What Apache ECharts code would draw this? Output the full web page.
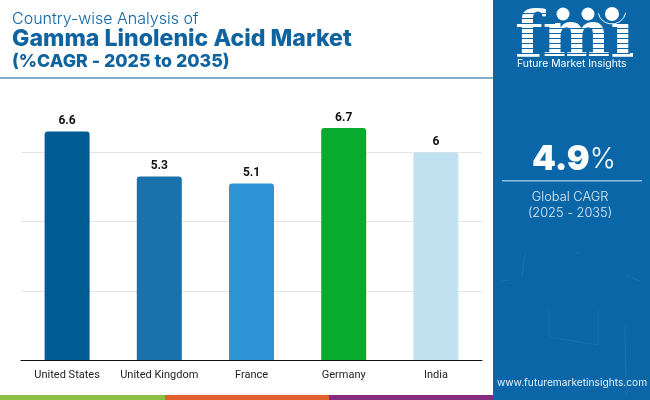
<!DOCTYPE html>
<html>
<head>
<meta charset="utf-8">
<title>Gamma Linolenic Acid Market</title>
<script src="https://cdn.jsdelivr.net/npm/echarts@6/dist/echarts.min.js"></script>
<style>
html,body{margin:0;padding:0;background:#fff}
#chart{width:650px;height:400px}
</style>
</head>
<body>
<div id="chart"></div>
<script>
var countries = ['United States', 'United Kingdom', 'France', 'Germany', 'India'];
var cagrValues = [6.6, 5.3, 5.1, 6.7, 6];
var barColors = ['#015c93', '#1a72ac', '#2f94d6', '#09ab2e', '#c3e2f1'];

var panelBlue = '#0a66a7';
var titleBlue = '#0f639f';

var graphicItems = [
    // title block
    {type:'text', x:12, y:19, style:{text:'Country-wise Analysis of', font:'300 16px Inter', fill:titleBlue, verticalAlign:'middle'}},
    {type:'text', x:12, y:39, style:{text:'Gamma Linolenic Acid Market', font:'800 23.1px Inter', fill:titleBlue, verticalAlign:'middle'}},
    {type:'text', x:12, y:62, style:{text:'(%CAGR - 2025 to 2035)', font:'800 17.8px Inter', fill:titleBlue, verticalAlign:'middle'}},
    {type:'rect', shape:{x:0, y:77, width:493, height:2}, style:{fill:'#7fb0c8'}},
    // right panel
    {type:'rect', shape:{x:493, y:0, width:157, height:400}, style:{fill:panelBlue}},
    // bottom stripes
    {type:'rect', shape:{x:0, y:395, width:165, height:5}, style:{fill:'#8cc045'}},
    {type:'rect', shape:{x:165, y:395, width:164, height:5}, style:{fill:'#e2602c'}},
    {type:'rect', shape:{x:329, y:395, width:164, height:5}, style:{fill:'#862d80'}},
    // logo
    {type:'text', left:515, top:7, style:{text:'fmi', font:'bold 64px "DejaVu Serif"', fill:'#fff'}},
    {type:'rect', shape:{x:601, y:0, width:40, height:24}, style:{fill:panelBlue}},
    {type:'circle', shape:{cx:563, cy:14, r:6.5}, style:{fill:'#fff'}},
    {type:'circle', shape:{cx:588, cy:14, r:6.5}, style:{fill:'#fff'}},
    {type:'circle', shape:{cx:612, cy:14, r:7}, style:{fill:'#fff'}},
    {type:'arc', shape:{cx:612, cy:10, r:14, startAngle:0.2, endAngle:2.9}, style:{stroke:'#fff', fill:null, lineWidth:1}},
    {type:'text', x:517, y:64, style:{text:'Future Market Insights', font:'10.4px Inter', fill:'#fff', verticalAlign:'middle'}},
    // CAGR box
    {type:'text', left:532, top:143, style:{
        text:'{a|4.9}{b|%}',
        rich:{
            a:{font:'900 34px Inter', fill:'#fff'},
            b:{font:'300 28px Inter', fill:'#fff'}
        }
    }},
    {type:'rect', shape:{x:502, y:180, width:140, height:1.5}, style:{fill:'#8fbde0'}},
    {type:'text', x:570, y:197, style:{text:'Global CAGR', font:'300 12.8px Inter', fill:'#dcecf7', align:'center', verticalAlign:'middle'}},
    {type:'text', x:570, y:213, style:{text:'(2025 - 2035)', font:'300 12.8px Inter', fill:'#dcecf7', align:'center', verticalAlign:'middle'}},
    {type:'text', x:572, y:383, style:{text:'www.futuremarketinsights.com', font:'10.2px Inter', fill:'#e6f1f9', align:'center', verticalAlign:'middle'}}
];

// blue stripes cut through the logo letters
for (var y = 13; y < 58; y += 5) {
    if (y < 24) {
        graphicItems.push({type:'rect', shape:{x:515, y:y, width:40, height:1}, style:{fill:panelBlue}});
    } else {
        graphicItems.push({type:'rect', shape:{x:515, y:y, width:115, height:1}, style:{fill:panelBlue}});
    }
}

// faint scratches on the panel
var scratches = [
    [525,253,522,277], [625,275,640,281], [625,325,626,395], [549,337,598,345],
    [598,345,598,310], [576,253,579,252], [549,310,549,337], [510,280,500,281]
];
for (var i = 0; i < scratches.length; i++) {
    graphicItems.push({type:'line', shape:{x1:scratches[i][0], y1:scratches[i][1], x2:scratches[i][2], y2:scratches[i][3]},
        style:{stroke:'#3f8dbf', lineWidth:1, opacity:0.3}});
}

var myChart = echarts.init(document.getElementById('chart'));
var option = {
    animation: false,
    backgroundColor: '#fff',
    grid: {left:21, right:168, top:83, bottom:40},
    xAxis: {
        type: 'category',
        data: countries,
        axisTick: {show:false},
        axisLine: {lineStyle:{color:'#111', width:1}},
        axisLabel: {interval:0, margin:10, fontFamily:'Roboto', fontSize:11, color:'#222'}
    },
    yAxis: {
        type: 'value',
        min: 0,
        max: 8,
        interval: 2,
        axisLine: {show:false},
        axisTick: {show:false},
        axisLabel: {show:false},
        splitLine: {showMaxLine:false, lineStyle:{color:'#e4e4e4', width:1}}
    },
    series: [{
        type: 'bar',
        barWidth: 45,
        data: cagrValues.map(function (v, i) {
            return {value:v, itemStyle:{color:barColors[i], borderRadius:[3,3,0,0]}};
        }),
        label: {show:true, position:'top', distance:4, fontFamily:'Roboto', fontSize:12, fontWeight:'bold', color:'#111'}
    }],
    graphic: {elements: graphicItems}
};
myChart.setOption(option);
</script>
</body>
</html>
